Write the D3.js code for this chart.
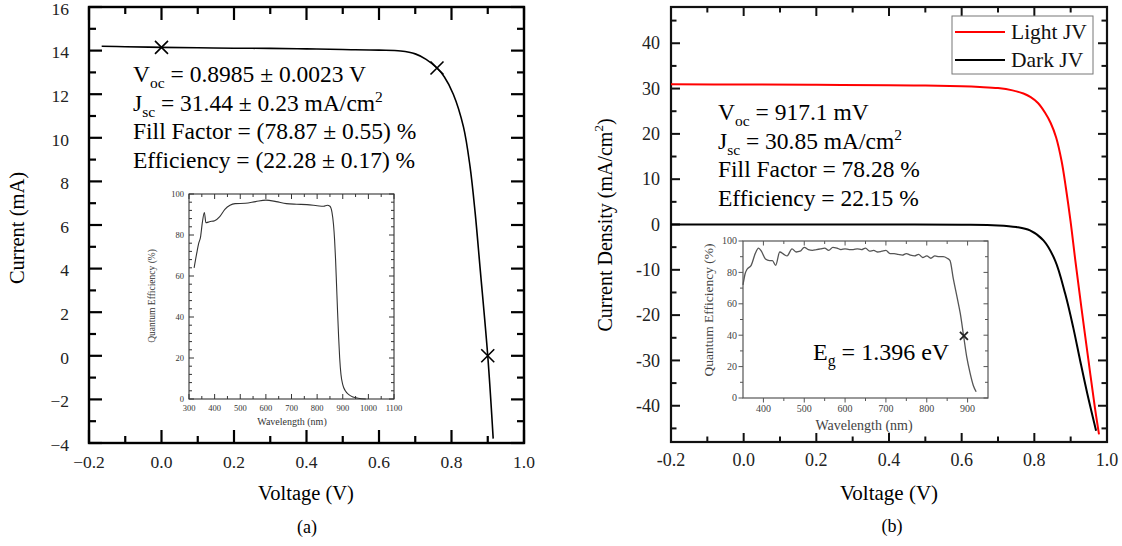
<!DOCTYPE html>
<html><head><meta charset="utf-8">
<script src="https://cdn.jsdelivr.net/npm/d3@7"></script>
<style>body{margin:0;background:#fff}svg{display:block}text{font-family:"Liberation Serif","Times New Roman",serif}</style>
</head><body><svg id="c" width="1122" height="546"></svg>
<script>
// ---------- DATA ----------
// Panel (a): I-V curve (Voltage V, Current mA)
const ivVoltage = [-0.165,-0.1,0,0.1,0.2,0.3,0.4,0.5,0.6,0.66,0.7,0.73,0.76,0.78,0.805,0.833,0.851,0.865,0.879,0.9,0.915];
const ivCurrent = [14.2,14.18,14.15,14.13,14.11,14.1,14.08,14.05,14.02,13.98,13.85,13.6,13.2,12.8,12.0,10.5,8.7,6.6,4.0,0.0,-3.8];
const ivMarkersV = [0.0,0.76,0.9];
const ivMarkersI = [14.15,13.2,0.0];
const aXTicks = [-0.2,0,0.2,0.4,0.6,0.8,1.0];
const aXTickLabels = ["\u22120.2","0.0","0.2","0.4","0.6","0.8","1.0"];
const aYTicks = [-4,-2,0,2,4,6,8,10,12,14,16];
const aYTickLabels = ["\u22124","\u22122","0","2","4","6","8","10","12","14","16"];
// Panel (a) inset: QE
const qeAWavelength = [320,330,338,345,352,360,366,380,400,420,440,460,480,520,560,600,640,680,720,760,800,825,840,850,858,864,868,872,876,880,884,888,893,900,910,925,940,960,990];
const qeAValue = [64,71,76,79,86,91,86,86.5,87,89,92.5,94.5,95.3,95.5,96.3,97,96.3,95.3,95,94.8,94.3,94,94.5,94,91,85,78,68,55,42,30,20,12,7,4,2,1,0.4,0];
const qeAXTicks = [300,400,500,600,700,800,900,1000,1100];
const qeAYTicks = [0,20,40,60,80,100];

// Panel (b): J-V curves (Voltage V, Current density mA/cm2)
const lightV = [-0.2,0,0.2,0.4,0.5,0.6,0.65,0.7,0.74,0.77,0.79,0.81,0.83,0.845,0.86,0.875,0.887,0.9,0.912,0.93,0.949,0.967,0.978];
const lightJ = [30.95,30.9,30.82,30.72,30.65,30.5,30.35,30.1,29.6,28.9,28.1,26.8,24.6,22.4,19.2,14.0,8.0,0.5,-7.4,-18.6,-30,-40.6,-46.3];
const darkV = [-0.2,0,0.2,0.4,0.6,0.7,0.75,0.788,0.825,0.857,0.885,0.907,0.926,0.946,0.97];
const darkJ = [0,0,0,-0.02,-0.06,-0.2,-0.55,-1.3,-3.5,-7.9,-15.3,-22.7,-30,-37.4,-45.5];
const bXTicks = [-0.2,0,0.2,0.4,0.6,0.8,1.0];
const bXTickLabels = ["-0.2","0.0","0.2","0.4","0.6","0.8","1.0"];
const bYTicks = [-40,-30,-20,-10,0,10,20,30,40];
const bYTickLabels = ["-40","-30","-20","-10","0","10","20","30","40"];
const seriesNames = ["Light JV","Dark JV"];
const seriesColors = ["#ff0000","#000000"];
// Panel (b) inset: QE
const qeBWavelength = [350,355,360,370,380,388,395,405,415,422,430,440,450,458,470,480,490,500,510,520,530,540,550,560,570,580,590,600,610,620,630,640,650,660,670,680,690,700,710,720,730,740,750,760,770,780,790,800,810,820,830,840,850,857,865,874,882,890,898,906,914,921];
const qeBValue = [72,79,82,84.5,92,95.5,93.5,88.5,87.5,87.5,84.5,93,91.5,90.5,95,93,93.5,96,94.5,94,94.5,95,95.5,94,96,95.5,94.5,95,94.5,94.5,95,94.5,95.5,93.5,94,93,93.5,94,92,92,91.5,91,92,91,90.5,91.5,89.5,90.5,89,90.5,90,90,89,87.5,76,64.5,54,40,26,16,8,4];
const qeBMarker = [891,39.5];
const qeBXTicks = [400,500,600,700,800,900];
const qeBYTicks = [0,20,40,60,80,100];

// ---------- DRAW ----------
const svg = d3.select("#c");
svg.append("rect").attr("width",1122).attr("height",546).attr("fill","#fff");

function range(a,b,s){const r=[];for(let v=a;v<=b+1e-9;v+=s)r.push(+v.toFixed(6));return r;}

function axesBox(g,x,y,c){
  const [x0,x1]=x.range(), [y0,y1]=y.range();
  const st = (sel)=>sel.attr("stroke",c.color).attr("stroke-width",c.tw);
  const sideX=(vals,len)=>vals.forEach(v=>{
    st(g.append("line").attr("x1",x(v)).attr("x2",x(v)).attr("y1",y0).attr("y2",y0-len*c.dir.bottom));
    st(g.append("line").attr("x1",x(v)).attr("x2",x(v)).attr("y1",y1).attr("y2",y1+len*c.dir.top));
  });
  const sideY=(vals,len)=>vals.forEach(v=>{
    st(g.append("line").attr("y1",y(v)).attr("y2",y(v)).attr("x1",x0).attr("x2",x0+len*c.dir.left));
    st(g.append("line").attr("y1",y(v)).attr("y2",y(v)).attr("x1",x1).attr("x2",x1-len*c.dir.right));
  });
  sideX(c.xMajor,c.major); sideX(c.xMinor,c.minor);
  sideY(c.yMajor,c.major); sideY(c.yMinor,c.minor);
  g.append("rect").attr("x",x0).attr("y",y1).attr("width",x1-x0).attr("height",y0-y1)
    .attr("fill","none").attr("stroke",c.color).attr("stroke-width",c.fw);
  c.xMajor.forEach((v,i)=>g.append("text").attr("x",x(v)).attr("y",c.xLabelY).attr("text-anchor","middle")
    .attr("font-size",c.fs).attr("fill",c.labelColor).text(c.xLabels?c.xLabels[i]:v));
  c.yMajor.forEach((v,i)=>g.append("text").attr("x",c.yLabelX).attr("y",y(v)).attr("dy",c.ydy||"0.34em").attr("text-anchor","end")
    .attr("font-size",c.fs).attr("fill",c.labelColor).text(c.yLabels?c.yLabels[i]:v));
}

function rich(g,x,y,parts,size){
  const t=g.append("text").attr("x",x).attr("y",y).attr("font-size",size).attr("fill","#000");
  let shift=0;
  parts.forEach(p=>{
    if(typeof p==="string"){const s=t.append("tspan").attr("font-size",size).text(p); if(shift){s.attr("dy",-shift);shift=0;}}
    else if(p.sub){const d=size*0.26; t.append("tspan").attr("font-size",size*0.66).attr("dy",d-shift).text(p.sub); shift=d;}
    else if(p.sup){const d=-size*0.36; t.append("tspan").attr("font-size",size*0.66).attr("dy",d-shift).text(p.sup); shift=d;}
  });
  return t;
}
function xMark(g,cx,cy,r,w,col){
  g.append("path").attr("d",`M${cx-r},${cy-r}L${cx+r},${cy+r}M${cx-r},${cy+r}L${cx+r},${cy-r}`)
    .attr("stroke",col).attr("stroke-width",w).attr("fill","none");
}
const smooth = d3.curveCatmullRom.alpha(0.5);

// ===== Panel (a) =====
const gA = svg.append("g");
const xA = d3.scaleLinear().domain([-0.2,1.0]).range([89,524]);
const yA = d3.scaleLinear().domain([-4,16]).range([443,7]);
axesBox(gA,xA,yA,{xMajor:aXTicks,xMinor:range(-0.1,0.9,0.2),yMajor:aYTicks,yMinor:range(-3,15,2),
  xLabels:aXTickLabels,yLabels:aYTickLabels,major:13,minor:7,tw:2.2,fw:2.4,color:"#000",labelColor:"#222",
  dir:{bottom:1,top:1,left:1,right:1},fs:17.5,xLabelY:468,yLabelX:69,ydy:"0.45em"});
const ivData = ivVoltage.map((v,i)=>[v,ivCurrent[i]]);
gA.append("path").datum(ivData).attr("fill","none").attr("stroke","#000").attr("stroke-width",1.6)
  .attr("d",d3.line().x(d=>xA(d[0])).y(d=>yA(d[1])).curve(smooth));
ivMarkersV.forEach((v,i)=>xMark(gA,xA(v),yA(ivMarkersI[i]),6.5,1.6,"#000"));
gA.append("text").attr("x",306).attr("y",500).attr("text-anchor","middle").attr("font-size",20.5).text("Voltage (V)");
gA.append("text").attr("transform","translate(17,228) rotate(-90)").attr("text-anchor","middle")
  .attr("dominant-baseline","central").attr("font-size",20.5).text("Current (mA)");
gA.append("text").attr("x",307).attr("y",533).attr("text-anchor","middle").attr("font-size",18).text("(a)");
const aLines=[["V",{sub:"oc"}," = 0.8985 \u00B1 0.0023 V"],["J",{sub:"sc"}," = 31.44 \u00B1 0.23 mA/cm",{sup:"2"}],
  ["Fill Factor = (78.87 \u00B1 0.55) %"],["Efficiency = (22.28 \u00B1 0.17) %"]];
aLines.forEach((l,i)=>rich(gA,133,82+i*28.5,l,23.5));

// inset a
const gAi = svg.append("g");
const xQa = d3.scaleLinear().domain([300,1100]).range([189,394]);
const yQa = d3.scaleLinear().domain([0,100]).range([399,194]);
axesBox(gAi,xQa,yQa,{xMajor:qeAXTicks,xMinor:range(350,1050,100),yMajor:qeAYTicks,yMinor:range(4,96,4).filter(v=>v%20!==0),
  major:5,minor:3,tw:1,fw:1.1,color:"#333",labelColor:"#333",dir:{bottom:1,top:1,left:1,right:1},fs:8.5,xLabelY:411,yLabelX:184});
gAi.append("path").datum(qeAWavelength.map((w,i)=>[w,qeAValue[i]])).attr("fill","none").attr("stroke","#333").attr("stroke-width",1.1)
  .attr("d",d3.line().x(d=>xQa(d[0])).y(d=>yQa(d[1])).curve(d3.curveMonotoneX));
gAi.append("text").attr("x",292).attr("y",425).attr("text-anchor","middle").attr("font-size",10).attr("fill","#333").text("Wavelength (nm)");
gAi.append("text").attr("transform","translate(152,296) rotate(-90)").attr("text-anchor","middle")
  .attr("dominant-baseline","central").attr("font-size",9.5).attr("fill","#333").text("Quantum Efficiency (%)");

// ===== Panel (b) =====
const gB = svg.append("g");
const xB = d3.scaleLinear().domain([-0.2,1.0]).range([671,1107]);
const yB = d3.scaleLinear().domain([-48,48]).range([442,7]);
axesBox(gB,xB,yB,{xMajor:bXTicks,xMinor:range(-0.1,0.9,0.2),yMajor:bYTicks,yMinor:range(-45,45,10),
  xLabels:bXTickLabels,yLabels:bYTickLabels,major:9,minor:5.5,tw:2,fw:2.2,color:"#111",labelColor:"#222",
  dir:{bottom:1,top:1,left:1,right:1},fs:18,xLabelY:466,yLabelX:660});
const lineB = d3.line().x(d=>xB(d[0])).y(d=>yB(d[1])).curve(smooth);
gB.append("path").datum(darkV.map((v,i)=>[v,darkJ[i]])).attr("fill","none").attr("stroke",seriesColors[1]).attr("stroke-width",2).attr("d",lineB);
gB.append("path").datum(lightV.map((v,i)=>[v,lightJ[i]])).attr("fill","none").attr("stroke",seriesColors[0]).attr("stroke-width",2).attr("d",lineB);
gB.append("text").attr("x",889).attr("y",500).attr("text-anchor","middle").attr("font-size",21).text("Voltage (V)");
const yt = gB.append("text").attr("transform","translate(605,225) rotate(-90)").attr("text-anchor","middle")
  .attr("dominant-baseline","central").attr("font-size",20);
yt.append("tspan").attr("font-size",20).text("Current Density (mA/cm");
yt.append("tspan").attr("font-size",13).attr("dy",-7).text("2");
yt.append("tspan").attr("font-size",20).attr("dy",7).text(")");
gB.append("text").attr("x",892).attr("y",532).attr("text-anchor","middle").attr("font-size",18).text("(b)");
const bLines=[["V",{sub:"oc"}," = 917.1 mV"],["J",{sub:"sc"}," = 30.85 mA/cm",{sup:"2"}],
  ["Fill Factor = 78.28 %"],["Efficiency = 22.15 %"]];
bLines.forEach((l,i)=>rich(gB,718,120+i*28.5,l,23.5));
// legend
const lg = gB.append("g");
lg.append("rect").attr("x",952).attr("y",16).attr("width",141).attr("height",58).attr("fill","#fff").attr("stroke","#777").attr("stroke-width",1);
seriesNames.forEach((n,i)=>{
  lg.append("line").attr("x1",955).attr("x2",1005).attr("y1",32+i*28).attr("y2",32+i*28).attr("stroke",seriesColors[i]).attr("stroke-width",2);
  lg.append("text").attr("x",1011).attr("y",32+i*28).attr("dy","0.34em").attr("font-size",21.5).attr("fill","#111").text(n);
});

// inset b
const gBi = svg.append("g");
const xQb = d3.scaleLinear().domain([350,950]).range([743,988]);
const yQb = d3.scaleLinear().domain([0,100]).range([398,241]);
gBi.append("rect").attr("x",743).attr("y",241).attr("width",245).attr("height",157).attr("fill","#fff");
const cB="#555";
axesBox(gBi,xQb,yQb,{xMajor:qeBXTicks,xMinor:range(450,850,100),yMajor:qeBYTicks,yMinor:range(10,90,20),
  major:4.5,minor:3,tw:1,fw:1.2,color:cB,labelColor:"#444",dir:{bottom:-1,top:1,left:-1,right:1},fs:10,xLabelY:412,yLabelX:737});
gBi.append("path").datum(qeBWavelength.map((w,i)=>[w,qeBValue[i]])).attr("fill","none").attr("stroke",cB).attr("stroke-width",1.3)
  .attr("d",d3.line().x(d=>xQb(d[0])).y(d=>yQb(d[1])).curve(d3.curveMonotoneX));
xMark(gBi,xQb(qeBMarker[0]),yQb(qeBMarker[1]),4,1.8,"#222");
gBi.append("text").attr("x",864).attr("y",430).attr("text-anchor","middle").attr("font-size",14).attr("fill","#444").text("Wavelength (nm)");
gBi.append("text").attr("transform","translate(708,310) rotate(-90)").attr("text-anchor","middle")
  .attr("dominant-baseline","central").attr("font-size",13.5).attr("fill","#444").text("Quantum Efficiency (%)");
rich(gBi,813,360,["E",{sub:"g"}," = 1.396 eV"],24);
</script></body></html>
